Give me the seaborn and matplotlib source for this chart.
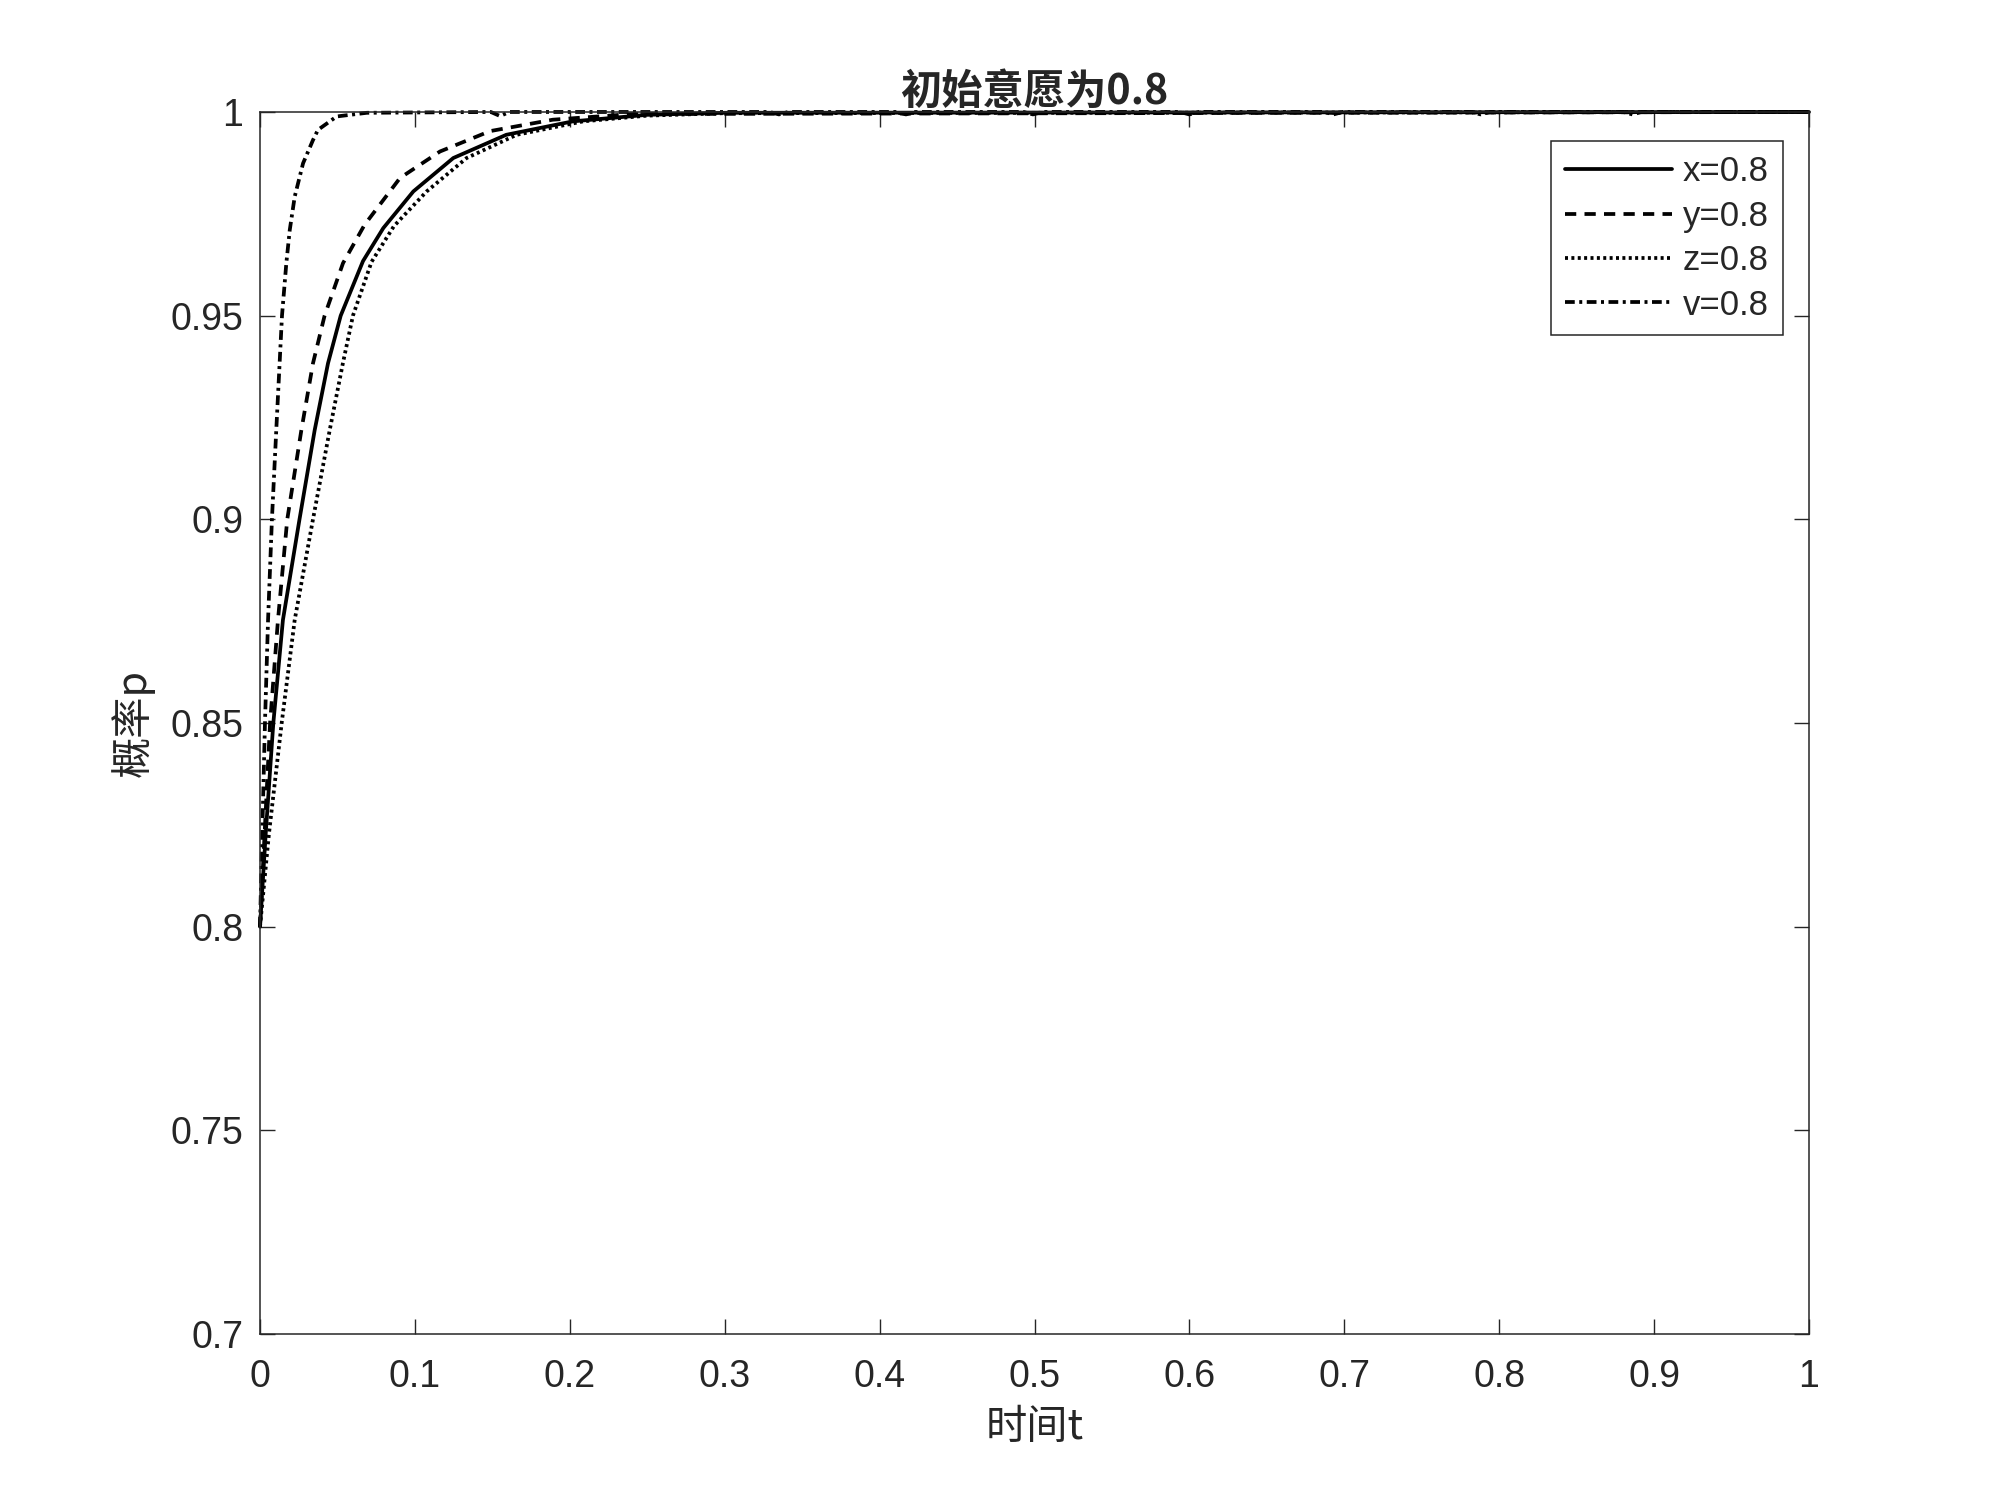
import pandas as pd
import seaborn as sns
import matplotlib.pyplot as plt

# values (time t, probability p)
t_x = [0, 0.0037, 0.0086, 0.0148, 0.0255, 0.0353, 0.0439, 0.0521, 0.0665, 0.0796,
       0.099, 0.1248, 0.159, 0.202, 0.25, 0.3, 1.0]
p_x = [0.8, 0.8229, 0.85, 0.8753, 0.9, 0.9219, 0.9383, 0.95, 0.9634, 0.9715,
       0.9805, 0.9887, 0.9944, 0.9977, 0.9993, 0.9998, 1.0]

t_y = [0, 0.0065, 0.0116, 0.0176, 0.0267, 0.0342, 0.0417, 0.0536, 0.0675,
       0.0904, 0.1162, 0.1485, 0.189, 0.24, 1.0]
p_y = [0.8, 0.85, 0.8753, 0.9, 0.9219, 0.9383, 0.95, 0.9629, 0.9723,
       0.9838, 0.9903, 0.9953, 0.9981, 0.9995, 1.0]

t_z = [0, 0.0058, 0.014, 0.0224, 0.0342, 0.045, 0.0535, 0.06, 0.072, 0.0865,
       0.1076, 0.1334, 0.1657, 0.2087, 0.25, 0.3, 1.0]
p_z = [0.8, 0.8229, 0.85, 0.8753, 0.9, 0.9219, 0.9383, 0.95, 0.9632, 0.972,
       0.9805, 0.9887, 0.9944, 0.9977, 0.9991, 0.9997, 1.0]

t_v = [0, 0.0032, 0.0052, 0.0077, 0.0105, 0.0142, 0.017, 0.0192, 0.0224, 0.0278,
       0.0342, 0.0374, 0.0495, 0.069,
       0.149, 0.155, 0.161, 0.329, 0.335, 0.341, 0.411, 0.417, 0.423,
       0.493, 0.499, 0.505, 0.594, 0.6, 0.606, 0.687, 0.693, 0.699,
       0.782, 0.788, 0.794, 0.88, 0.886, 0.892, 1.0]
p_v = [0.8, 0.85, 0.8753, 0.9, 0.9219, 0.95, 0.9629, 0.971, 0.9792, 0.9874,
       0.9931, 0.9956, 0.9989, 0.9998,
       1.0, 0.999, 1.0, 1.0, 0.9994, 1.0, 1.0, 0.9994, 1.0,
       1.0, 0.9994, 1.0, 1.0, 0.9994, 1.0, 1.0, 0.9994, 1.0,
       1.0, 0.9994, 1.0, 1.0, 0.9994, 1.0, 1.0]

labels = ['x=0.8', 'y=0.8', 'z=0.8', 'v=0.8']
xticks = [0, 0.1, 0.2, 0.3, 0.4, 0.5, 0.6, 0.7, 0.8, 0.9, 1]
xticklabels = ['0', '0.1', '0.2', '0.3', '0.4', '0.5', '0.6', '0.7', '0.8', '0.9', '1']
yticks = [0.7, 0.75, 0.8, 0.85, 0.9, 0.95, 1]
yticklabels = ['0.7', '0.75', '0.8', '0.85', '0.9', '0.95', '1']

sns.set_style('ticks')
plt.rcParams['font.family'] = ['Liberation Sans', 'Noto Sans CJK SC', 'DejaVu Sans']

dark = '#262626'
cjk = ['Noto Sans CJK SC', 'Liberation Sans']
fig = plt.figure(figsize=(20, 14.99), dpi=100)
ax = fig.add_axes([0.13, 0.11, 0.7745, 0.8153])

series = [(t_x, p_x, '-', None), (t_y, p_y, '--', (3.0, 2.2)),
          (t_z, p_z, ':', (0.8, 0.9)), (t_v, p_v, '-.', (2.6, 1.2, 0.8, 1.2))]
for (t, p, ls, dash), lab in zip(series, labels):
    df = pd.DataFrame({'t': t, 'p': p})
    sns.lineplot(data=df, x='t', y='p', ax=ax, color='black', linestyle=ls,
                 linewidth=2.7, label=lab, estimator=None, sort=False)
    line = ax.lines[-1]
    if dash is not None:
        line.set_dashes(dash)
    line.set_clip_on(False)

ax.set_xlim(0, 1)
ax.set_ylim(0.7, 1)
ax.set_xticks(xticks)
ax.set_xticklabels(xticklabels)
ax.set_yticks(yticks)
ax.set_yticklabels(yticklabels)
ax.tick_params(direction='in', length=11, width=1, color=dark, labelcolor=dark,
               labelsize=27, top=True, right=True)
ax.tick_params(axis='x', pad=18)
ax.tick_params(axis='y', pad=12)
for s in ax.spines.values():
    s.set_visible(True)
    s.set_color(dark)
    s.set_linewidth(1.1)

ax.set_xlabel('时间t', fontsize=29.7, color=dark, family=cjk)
ax.set_ylabel('概率p', fontsize=29.7, color=dark, family=cjk)
ax.xaxis.set_label_coords(0.5, -0.06)
ax.yaxis.set_label_coords(-0.068, 0.5)
ax.set_title('初始意愿为0.8', fontsize=29.7, fontweight='bold', pad=6, family=cjk)

leg = ax.legend(loc='upper right', bbox_to_anchor=(0.983, 0.976), borderaxespad=0,
                fontsize=25, handlelength=3.1, handletextpad=0.3, labelspacing=0.33,
                fancybox=False, framealpha=1, edgecolor=dark, borderpad=0.4)
leg.get_frame().set_linewidth(1.1)

fig.savefig('out.png', dpi=100)
